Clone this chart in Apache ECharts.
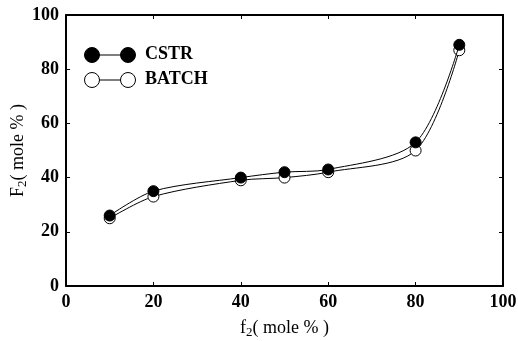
<!DOCTYPE html>
<html><head><meta charset="utf-8">
<script src="https://cdn.jsdelivr.net/npm/echarts@6/dist/echarts.min.js"></script>
<style>html,body{margin:0;padding:0;background:#fff}#c{width:518px;height:341px}</style>
</head><body><div id="c"></div>
<script>
const f2 = [10, 20, 40, 50, 60, 80, 90];
const cstr = [26, 35, 40, 42, 43, 53, 89];
const batch = [25, 33, 39, 40, 42, 50, 87];
const xTicks = [0, 20, 40, 60, 80, 100];
const yTicks = [0, 20, 40, 60, 80, 100];

const font = 'Liberation Serif';
const chart = echarts.init(document.getElementById('c'));
const toPairs = (xs, ys) => xs.map((x, i) => [x, ys[i]]);
const axisCommon = {
  min: 0, max: 100, interval: 20,
  axisLine: {show: true, onZero: false, lineStyle: {color: '#000', width: 2}},
  axisTick: {show: true, inside: true, length: 4, lineStyle: {color: '#000'}},
  splitLine: {show: false}
};
const nameRich = {
  a: {fontFamily: font, fontSize: 18, color: '#000'},
  s: {fontFamily: font, fontSize: 13, color: '#000', verticalAlign: 'bottom', padding: [9, 0, 0, 0]}
};
const labelStyle = {color: '#000', fontFamily: font, fontWeight: 'bold', fontSize: 18, margin: 7};
chart.setOption({
  animation: false,
  grid: {left: 66, right: 15, top: 15, bottom: 55, outerBoundsMode: 'none', containLabel: false},
  xAxis: [
    Object.assign({}, axisCommon, {type: 'value', position: 'bottom',
      axisLabel: labelStyle,
      name: '{a|f}{s|2}{a|( mole % )}', nameLocation: 'middle', nameGap: 31, nameMoveOverlap: false,
      nameTextStyle: {rich: nameRich}}),
    Object.assign({}, axisCommon, {type: 'value', position: 'top', axisLabel: {show: false}})
  ],
  yAxis: [
    Object.assign({}, axisCommon, {type: 'value', position: 'left',
      axisLabel: labelStyle,
      name: '{a|F}{s|2}{a|( mole % )}', nameLocation: 'middle', nameGap: 37, nameMoveOverlap: false,
      nameTextStyle: {rich: nameRich}}),
    Object.assign({}, axisCommon, {type: 'value', position: 'right', axisLabel: {show: false}})
  ],
  series: [
    {name: 'CSTR', type: 'line', smooth: 0.3, data: toPairs(f2, cstr),
      symbol: 'circle', symbolSize: 11, z: 3,
      itemStyle: {color: '#000', borderColor: '#000', borderWidth: 1},
      lineStyle: {color: '#000', width: 1}},
    {name: 'BATCH', type: 'line', smooth: 0.3, data: toPairs(f2, batch),
      symbol: 'circle', symbolSize: 11, z: 2,
      itemStyle: {color: '#fff', borderColor: '#000', borderWidth: 1},
      lineStyle: {color: '#000', width: 1}}
  ],
  graphic: [
    {type: 'line', shape: {x1: 92, y1: 55, x2: 128, y2: 55}, style: {stroke: '#000', lineWidth: 1.2}},
    {type: 'circle', shape: {cx: 92, cy: 55, r: 7.5}, style: {fill: '#000', stroke: '#000'}},
    {type: 'circle', shape: {cx: 128, cy: 55, r: 7.5}, style: {fill: '#000', stroke: '#000'}},
    {type: 'text', left: 145, top: 45, style: {text: 'CSTR', font: 'bold 18px "Liberation Serif"', fill: '#000'}},
    {type: 'line', shape: {x1: 92, y1: 80, x2: 128, y2: 80}, style: {stroke: '#000', lineWidth: 1.2}},
    {type: 'circle', shape: {cx: 92, cy: 80, r: 7.5}, style: {fill: '#fff', stroke: '#000', lineWidth: 1}},
    {type: 'circle', shape: {cx: 128, cy: 80, r: 7.5}, style: {fill: '#fff', stroke: '#000', lineWidth: 1}},
    {type: 'text', left: 145, top: 70, style: {text: 'BATCH', font: 'bold 18px "Liberation Serif"', fill: '#000'}}
  ]
});
</script></body></html>
